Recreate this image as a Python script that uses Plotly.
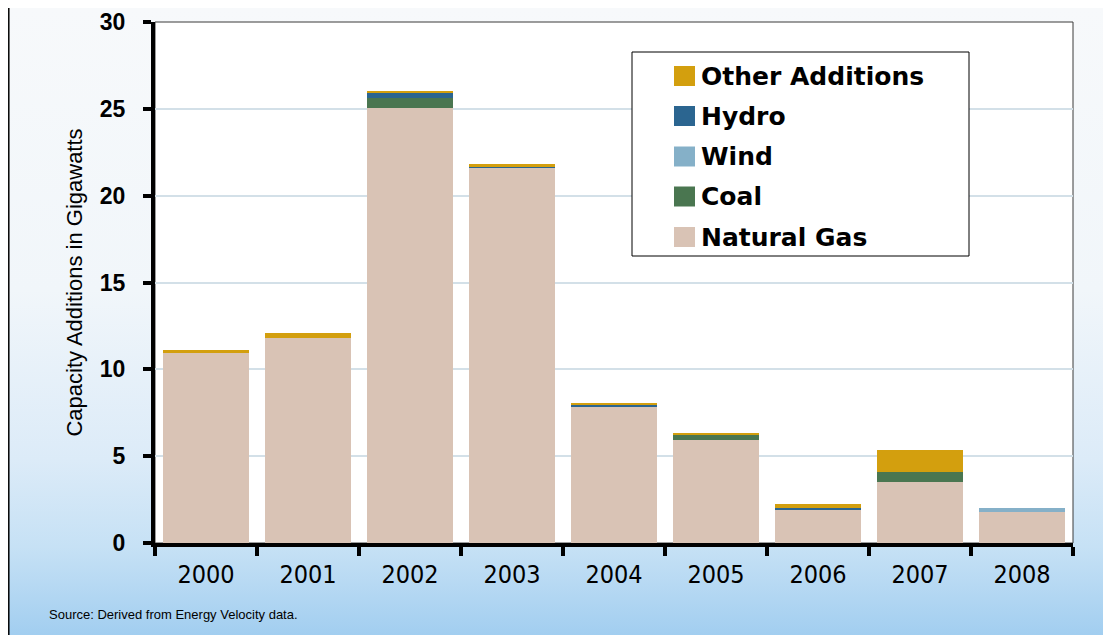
import base64
import plotly.graph_objects as go

# ---- data ----
years = ["2000", "2001", "2002", "2003", "2004", "2005", "2006", "2007", "2008"]
natural_gas = [10.92, 11.78, 25.05, 21.61, 7.87, 5.92, 1.95, 3.50, 1.78]
coal = [0.0, 0.0, 0.55, 0.0, 0.0, 0.28, 0.0, 0.58, 0.0]
wind = [0.0, 0.0, 0.0, 0.0, 0.0, 0.0, 0.0, 0.0, 0.23]
hydro = [0.0, 0.0, 0.30, 0.06, 0.06, 0.0, 0.06, 0.0, 0.0]
other = [0.17, 0.29, 0.12, 0.17, 0.12, 0.12, 0.23, 1.26, 0.0]

series_names = ["Natural Gas", "Coal", "Wind", "Hydro", "Other Additions"]
series_values = [natural_gas, coal, wind, hydro, other]
series_colors = ["#d9c3b5", "#4a7650", "#85b0c8", "#2b6590", "#d39f0e"]

y_ticks = [0, 5, 10, 15, 20, 25, 30]

# ---- layout geometry (page pixels) ----
W, H = 1111, 635
O = 8  # default body margin of the html page
L, R, T, B = 155, 38, 22, 92
PW, PH = W - L - R, H - T - B


def px(x):
    return (x - L) / PW


def py(y):
    return (H - B - y) / PH


fig = go.Figure()
for name, vals, col in zip(series_names, series_values, series_colors):
    fig.add_trace(go.Bar(x=years, y=vals, name=name, marker=dict(color=col, line=dict(width=0)),
                         showlegend=False))

# background gradient as svg image
svg = f'''<svg xmlns="http://www.w3.org/2000/svg" width="{W}" height="{H}" preserveAspectRatio="none">
<defs><linearGradient id="g" x1="0" y1="0" x2="0" y2="1">
<stop offset="0" stop-color="#f7f9fb"/>
<stop offset="0.45" stop-color="#f1f6fa"/>
<stop offset="0.72" stop-color="#dcebf8"/>
<stop offset="0.86" stop-color="#c6e1f5"/>
<stop offset="1" stop-color="#a2cef0"/>
</linearGradient></defs>
<rect x="0" y="0" width="{W}" height="{H}" fill="url(#g)"/>
</svg>'''
uri = "data:image/svg+xml;base64," + base64.b64encode(svg.encode()).decode()

shapes = []
shapes.append(dict(type="rect", xref="paper", yref="paper", x0=0, x1=1, y0=0, y1=1,
                   fillcolor="white", line=dict(color="#3a3a3a", width=1), layer="below"))
shapes.append(dict(type="line", xref="paper", yref="paper", x0=px(O + 0.8), x1=px(O + 0.8), y0=py(H), y1=py(O),
                   line=dict(color="black", width=1.5)))

annotations = []
lx0, lx1, ly0, ly1 = 632, 969, 52, 256
shapes.append(dict(type="rect", xref="paper", yref="paper", x0=px(lx0), x1=px(lx1), y0=py(ly1), y1=py(ly0),
                   fillcolor="white", line=dict(color="black", width=1)))
legend_order = ["Other Additions", "Hydro", "Wind", "Coal", "Natural Gas"]
row_y = [76, 116, 156.5, 196.5, 237]
for nm, cy in zip(legend_order, row_y):
    col = series_colors[series_names.index(nm)]
    shapes.append(dict(type="rect", xref="paper", yref="paper", x0=px(674), x1=px(695),
                       y0=py(cy + 10), y1=py(cy - 10), fillcolor=col, line=dict(width=0)))
    annotations.append(dict(xref="paper", yref="paper", x=px(699), y=py(cy), text=nm, showarrow=False,
                            xanchor="left", yanchor="middle",
                            font=dict(family="DejaVu Sans, sans-serif", size=25, color="black",
                                      weight="bold")))

annotations.append(dict(xref="paper", yref="paper", x=px(47), y=py(614), text="Source: Derived from Energy Velocity data.",
                        showarrow=False, xanchor="left", yanchor="middle",
                        font=dict(family="Liberation Sans, Arial, sans-serif", size=13, color="black")))

fig.update_layout(
    width=W - O, height=H - O,
    margin=dict(l=L - O, r=R, t=T - O, b=B, pad=0, autoexpand=False),
    barmode="stack", bargap=0.157,
    paper_bgcolor="#e8f2fa", plot_bgcolor="rgba(0,0,0,0)",
    showlegend=False,
    shapes=shapes, annotations=annotations,
    images=[dict(source=uri, xref="paper", yref="paper", x=px(O), y=py(O), sizex=(W - O) / PW,
                 sizey=(H - O) / PH, xanchor="left", yanchor="top", sizing="stretch", layer="below")],
    xaxis=dict(showline=True, linecolor="black", linewidth=4, ticks="outside", tickson="boundaries",
               ticklen=9, tickwidth=4, tickcolor="black", showgrid=False, ticklabelstandoff=6,
               automargin=False,
               tickfont=dict(family="DejaVu Sans Condensed, sans-serif", size=25, color="black")),
    yaxis=dict(range=[0, 30], tickvals=y_ticks, showline=True, linecolor="black", linewidth=4,
               ticks="outside", ticklen=8, tickwidth=4, tickcolor="black", showgrid=True,
               gridcolor="#d3e0e8", gridwidth=2, zeroline=False, ticklabelstandoff=13,
               automargin=False,
               tickfont=dict(family="Liberation Sans, Arial, sans-serif", size=23, color="black", weight="bold"),
               title=dict(text="Capacity Additions in Gigawatts", standoff=12,
                          font=dict(family="Liberation Sans, Arial, sans-serif", size=22, color="black"))),
)

fig.write_html("out.html")
